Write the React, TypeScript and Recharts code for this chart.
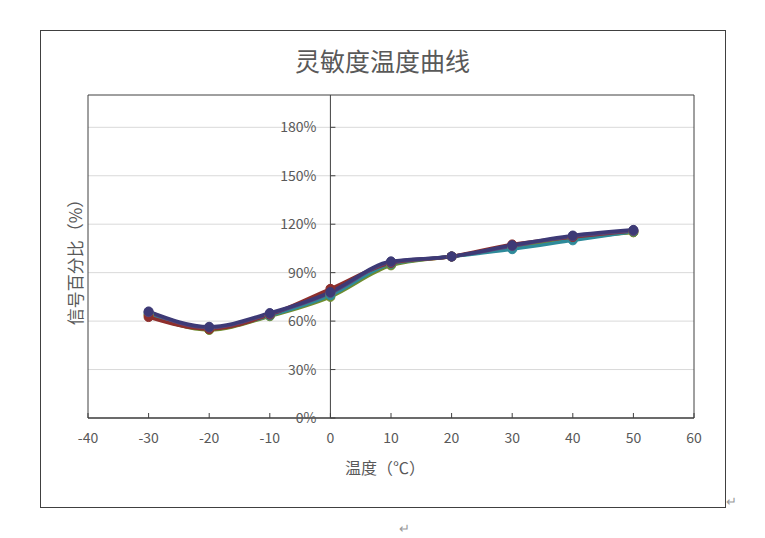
import { CartesianGrid, Line, LineChart, ReferenceArea, ReferenceDot, ReferenceLine, XAxis, YAxis } from "recharts";

const temps = [-30, -20, -10, 0, 10, 20, 30, 40, 50];
const xTicks = [-40, -30, -20, -10, 0, 10, 20, 30, 40, 50, 60];
const yTicks = [0, 30, 60, 90, 120, 150, 180];

const sensorOrange = [63.5, 55, 63.5, 77, 95, 100, 106, 111.5, 115];
const sensorGreen = [64, 54.5, 63, 75, 94.5, 100, 105.5, 111, 115];
const sensorTeal = [65, 55.5, 63.5, 76, 95.5, 100, 104.5, 110, 115.5];
const sensorRed = [62.5, 55, 64, 80, 96, 100, 107.5, 112, 116];
const sensorPurple = [65.5, 56, 64.5, 77.5, 96.5, 100, 106.5, 112.5, 116];
const sensorNavy = [66, 56.5, 65, 78, 97, 100, 107, 113, 116.5];

const series = [
  { key: "s1", values: sensorOrange, color: "#D8862A" },
  { key: "s2", values: sensorGreen, color: "#6F8D2F" },
  { key: "s3", values: sensorTeal, color: "#2E8A9A" },
  { key: "s4", values: sensorRed, color: "#8E2F2D" },
  { key: "s5", values: sensorPurple, color: "#5A4578" },
  { key: "s6", values: sensorNavy, color: "#3D3A76" },
];

const rows = temps.map((t, i) => {
  const row: Record<string, number> = { t };
  series.forEach((s) => (row[s.key] = s.values[i]));
  return row;
});

const FONT = '"Noto Sans CJK SC", "Noto Sans", sans-serif';
const TEXT = "#595959";

export default function App() {
  return (
    <div style={{ position: "absolute", left: 0, top: 0, width: 765, height: 538, background: "#fff", fontFamily: FONT, overflow: "hidden" }}>
      <div style={{ position: "absolute", left: 40, top: 30, width: 684, height: 476, border: "1px solid #404040" }} />
      <div style={{ position: "absolute", left: 0, width: 765, top: 43, textAlign: "center", fontSize: 25, color: TEXT, lineHeight: "34px" }}>
        灵敏度温度曲线
      </div>
      <div style={{ position: "absolute", left: 0, width: 770, top: 455, textAlign: "center", fontSize: 16, color: TEXT, lineHeight: "24px" }}>
        温度（℃）
      </div>
      <div
        style={{
          position: "absolute",
          left: 75,
          top: 258,
          transform: "translate(-50%, -50%) rotate(-90deg)",
          whiteSpace: "nowrap",
          fontSize: 17,
          color: TEXT,
          lineHeight: "22px",
        }}
      >
        信号百分比（%）
      </div>
      <span style={{ position: "absolute", left: 726, top: 494, fontSize: 13, lineHeight: "14px", color: "#999" }}>↵</span>
      <span style={{ position: "absolute", left: 399, top: 521, fontSize: 13, lineHeight: "13px", color: "#999" }}>↵</span>
      <div style={{ position: "absolute", left: 0, top: 0 }}>
        <LineChart width={765} height={538} data={rows} margin={{ top: 95, right: 71, bottom: 92, left: 88 }}>
          <CartesianGrid vertical={false} horizontalValues={yTicks} stroke="#D9D9D9" />
          <XAxis
            dataKey="t"
            type="number"
            domain={[-40, 60]}
            ticks={xTicks}
            height={28}
            axisLine={{ stroke: "#404040" }}
            tickLine={{ stroke: "#404040" }}
            tickSize={-5}
            tickMargin={20}
            tick={{ fill: TEXT, fontSize: 14, fontFamily: FONT }}
            interval={0}
          />
          <YAxis type="number" domain={[0, 200]} ticks={yTicks} hide width={0} />
          <ReferenceArea x1={-40} x2={60} y1={0} y2={200} fill="none" stroke="#404040" strokeWidth={1} />
          <ReferenceLine x={0} stroke="#404040" strokeWidth={1} />
          {yTicks.map((v) => (
            <ReferenceDot
              key={v}
              x={0}
              y={v}
              r={0}
              shape={(p: any) => <line x1={p.cx} x2={p.cx + 5} y1={p.cy} y2={p.cy} stroke="#404040" />}
              label={{ value: `${v}%`, position: "left", offset: 14, fill: TEXT, fontSize: 14, fontFamily: FONT }}
            />
          ))}
          {series.map((s) => (
            <Line
              key={s.key}
              type="monotone"
              dataKey={s.key}
              stroke={s.color}
              strokeWidth={3.5}
              dot={{ r: 4.5, fill: s.color, stroke: s.color, strokeWidth: 1 }}
              isAnimationActive={false}
            />
          ))}
        </LineChart>
      </div>
    </div>
  );
}
